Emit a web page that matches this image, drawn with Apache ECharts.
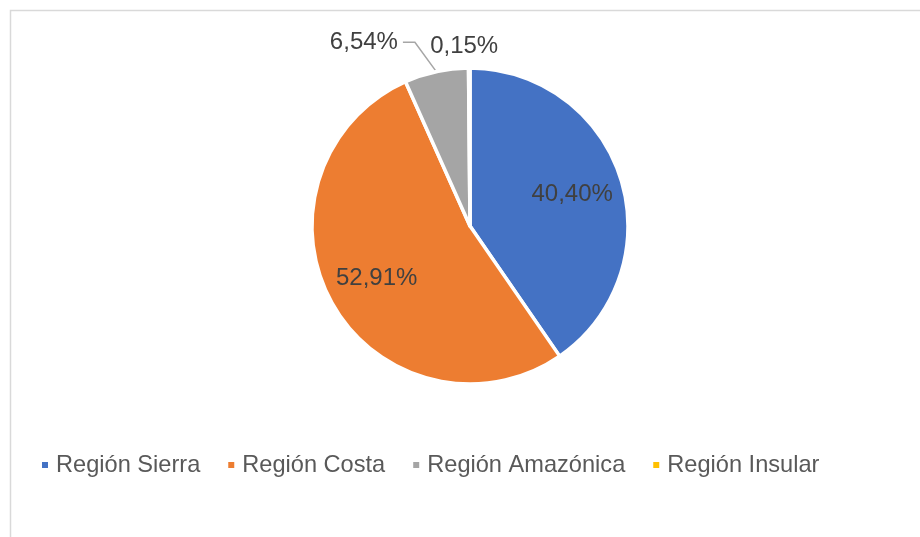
<!DOCTYPE html>
<html>
<head>
<meta charset="utf-8">
<script src="https://cdn.jsdelivr.net/npm/echarts@6/dist/echarts.min.js"></script>
<style>
html, body { margin: 0; padding: 0; background: #fff; }
#main { width: 920px; height: 537px; }
</style>
</head>
<body>
<div id="main"></div>
<script>
var regiones = ["Región Sierra", "Región Costa", "Región Amazónica", "Región Insular"];
var porcentajes = [40.40, 52.91, 6.54, 0.15];
var colores = ["#4472C4", "#ED7D31", "#A5A5A5", "#FFC000"];

var fuente = "'Liberation Sans', Arial, sans-serif";

function fmt(v) {
    return v.toFixed(2).replace(".", ",") + "%";
}

var chart = echarts.init(document.getElementById("main"), null, { renderer: "canvas" });

// slices grandes: etiqueta dentro; pequeñas: fuera con guía
var dataPie = regiones.map(function(n, i) {
    var v = porcentajes[i];
    var small = v < 10;
    var tiny = v < 1;
    return {
        name: n,
        value: v,
        itemStyle: { color: colores[i] },
        label: { show: small },
        labelLine: {
            show: small && !tiny,
            length: tiny ? 22 : 30,
            length2: tiny ? 0 : 27
        }
    };
});

var dataRing = regiones.map(function(n, i) {
    return {
        name: n,
        value: porcentajes[i],
        label: { show: porcentajes[i] >= 10 }
    };
});

var option = {
    animation: false,
    backgroundColor: "#fff",
    graphic: [{
        type: "rect",
        shape: { x: 10.5, y: 10.5, width: 2000, height: 2000 },
        style: { fill: "none", stroke: "#d9d9d9", lineWidth: 1.5 },
        silent: true
    }],
    legend: {
        data: regiones,
        left: 40,
        top: 451,
        padding: 0,
        orient: "horizontal",
        icon: "rect",
        itemWidth: 8,
        itemHeight: 8,
        itemGap: 26,
        textStyle: {
            color: "#595959",
            fontSize: 23.6,
            fontFamily: fuente,
            lineHeight: 28,
            padding: [0, 0, 0, 2]
        }
    },
    series: [{
        type: "pie",
        center: [470, 226],
        radius: 158,
        startAngle: 90,
        clockwise: true,
        avoidLabelOverlap: false,
        silent: true,
        itemStyle: { borderColor: "#fff", borderWidth: 3.5 },
        label: {
            position: "outside",
            color: "#404040",
            fontSize: 24,
            fontFamily: fuente,
            formatter: function(p) { return fmt(p.value); }
        },
        labelLine: {
            lineStyle: { color: "#A6A6A6", width: 1.5 }
        },
        labelLayout: function(p) {
            if (porcentajes[p.dataIndex] < 1) {
                return { align: "center" };
            }
            var pts = p.labelLinePoints;
            if (pts && pts.length === 3) {
                // guía inclinada como en el original
                return {
                    labelLinePoints: [pts[0], [pts[1][0] - 15, pts[1][1]], pts[2]]
                };
            }
        },
        data: dataPie
    }, {
        type: "pie",
        center: [470, 226],
        radius: [50, 158],
        startAngle: 90,
        clockwise: true,
        silent: true,
        itemStyle: { color: "rgba(0,0,0,0)", borderWidth: 0 },
        label: {
            position: "inside",
            color: "#404040",
            fontSize: 24,
            fontFamily: fuente,
            formatter: function(p) { return fmt(p.value); }
        },
        labelLine: { show: false },
        data: dataRing
    }]
};

chart.setOption(option);
</script>
</body>
</html>
